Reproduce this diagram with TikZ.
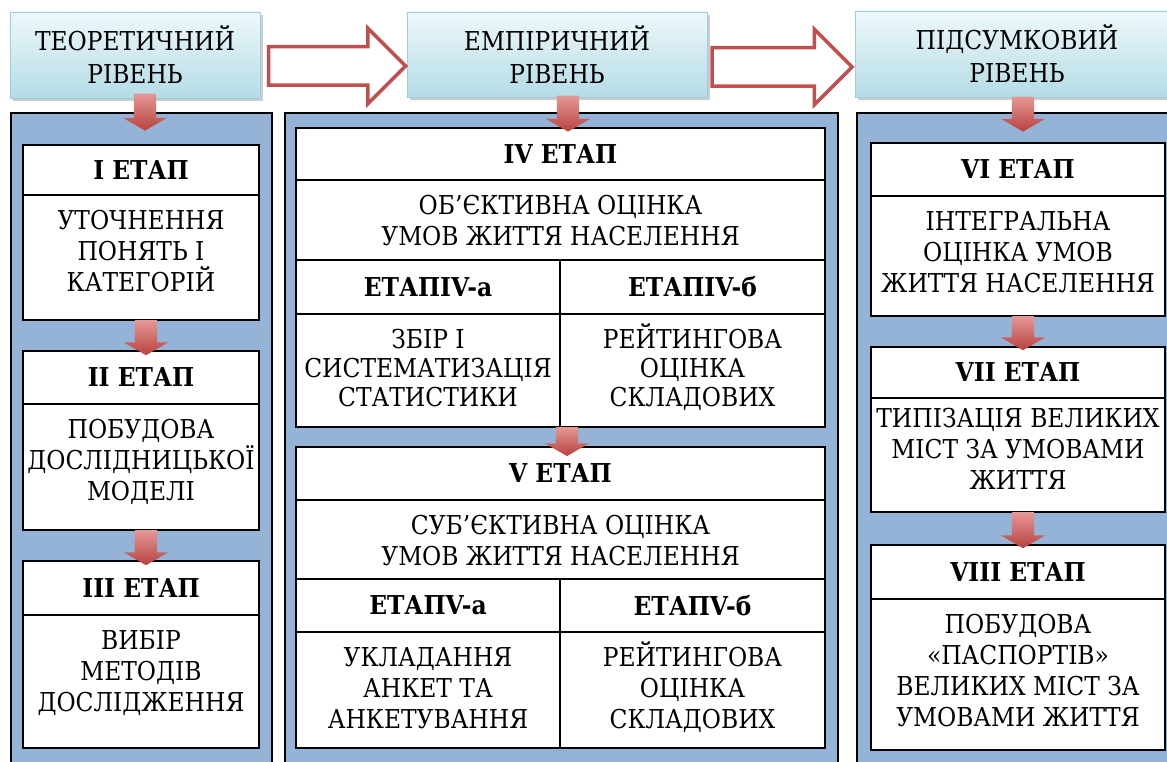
\documentclass[tikz,border=0pt]{standalone}
\usepackage{fontspec}
\setmainfont{DejaVu Serif Condensed}
\usepackage{tikz}
\usetikzlibrary{positioning,shapes.arrows,shadows,calc}
\usepackage{xcolor}
\definecolor{panelblue}{HTML}{95B3D7}
\definecolor{lvltop}{HTML}{EEF8FA}
\definecolor{lvlbot}{HTML}{B4DCE6}
\definecolor{lvlline}{HTML}{9CCFDD}
\definecolor{arrred}{HTML}{C0504D}
\definecolor{arrlight}{HTML}{E59895}
\definecolor{arrdark}{HTML}{B8423F}
\newcommand{\diagfont}{\fontsize{26}{31}\selectfont}

\begin{document}
\begin{tikzpicture}[x=1pt,y=-1pt,
    panel/.style={draw=black,line width=1.5pt,fill=panelblue,inner sep=0pt,outer sep=0pt},
    level/.style={draw=lvlline,line width=0.8pt,top color=lvltop,bottom color=lvlbot,align=center,inner sep=0pt,
        font=\fontsize{26}{33}\selectfont,drop shadow={shadow xshift=3pt,shadow yshift=-3pt,fill=black!40,opacity=.5}},
    stagetitle/.style={draw=black,line width=1.2pt,fill=white,font=\diagfont\bfseries,inner sep=0pt,outer sep=0pt},
    stagebody/.style={draw=black,line width=1.2pt,fill=white,font=\diagfont,align=center,inner sep=0pt,outer sep=0pt},
    bigarrow/.style={single arrow,draw=arrred,line width=3.5pt,fill=white,single arrow head extend=18.5pt,
        single arrow tip angle=90,inner sep=17.5pt},
    downarrow/.style={single arrow,shape border rotate=270,top color=arrlight,bottom color=arrdark,
        single arrow head extend=11pt,single arrow tip angle=120,inner sep=11pt,anchor=tail}]

    \useasboundingbox (0,0) rectangle (1167,762);
    \clip (0,0) rectangle (1167,762);

    % panels
    \node[panel,minimum width=261pt,minimum height=670pt] (p1) at (141.5,448) {};
    \node[panel,minimum width=553pt,minimum height=670pt] (p2) at (561.5,448) {};
    \node[panel,minimum width=333pt,minimum height=670pt] (p3) at (1023.5,448) {};

    % levels
    \node[level,minimum width=250pt,minimum height=86pt] (teor) at (135,55) {ТЕОРЕТИЧНИЙ\\РІВЕНЬ};
    \node[level,minimum width=300pt,minimum height=85pt] (emp) at (557,54.5) {ЕМПІРИЧНИЙ\\РІВЕНЬ};
    \node[level,minimum width=324pt,minimum height=86pt] (pids) at (1017,54) {ПІДСУМКОВИЙ\\РІВЕНЬ};

    \node[bigarrow,minimum height=137pt] (ar1) at (327.5,66) {};
    \node[bigarrow,minimum height=140pt] (ar2) at (772.5,67) {};

    % first column
    \node[stagetitle,minimum width=236pt,minimum height=50pt] (st1) at (141,170) {I ЕТАП};
    \node[stagebody,minimum width=236pt,text height=96pt,text depth=29pt,below=0pt of st1] (st1b) {УТОЧНЕННЯ\\ПОНЯТЬ І\\КАТЕГОРІЙ};
    \node[stagetitle,minimum width=236pt,minimum height=53pt] (st2) at (141,377.5) {II ЕТАП};
    \node[stagebody,minimum width=236pt,text height=96pt,text depth=30pt,below=0pt of st2] (st2b) {ПОБУДОВА\\ДОСЛІДНИЦЬКОЇ\\МОДЕЛІ};
    \node[stagetitle,minimum width=236pt,minimum height=54pt] (st3) at (141,588) {III ЕТАП};
    \node[stagebody,minimum width=236pt,text height=96pt,text depth=37pt,below=0pt of st3] (st3b) {ВИБІР\\МЕТОДІВ\\ДОСЛІДЖЕННЯ};

    % second column
    \node[stagetitle,minimum width=529pt,minimum height=52pt] (st4) at (560.5,154) {IV ЕТАП};
    \node[stagebody,minimum width=529pt,text height=65pt,text depth=15pt,below=0pt of st4] (st4b) {ОБ’ЄКТИВНА ОЦІНКА\\УМОВ ЖИТТЯ НАСЕЛЕННЯ};
    \node[stagetitle,minimum width=264pt,minimum height=54pt,below right=0pt of st4b.south west] (st4l) {ЕТАПIV-а};
    \node[stagetitle,minimum width=265pt,minimum height=54pt,below left=0pt of st4b.south east] (st4r) {ЕТАПIV-б};
    \node[stagebody,minimum width=264pt,text height=92pt,text depth=21pt,below=0pt of st4l,font=\fontsize{26}{29}\selectfont] (st4lb) {ЗБІР І\\СИСТЕМАТИЗАЦІЯ\\СТАТИСТИКИ};
    \node[stagebody,minimum width=265pt,text height=92pt,text depth=21pt,below=0pt of st4r,font=\fontsize{26}{29}\selectfont] (st4rb) {РЕЙТИНГОВА\\ОЦІНКА\\СКЛАДОВИХ};

    \node[stagetitle,minimum width=529pt,minimum height=53pt] (st5) at (560.5,473.5) {V ЕТАП};
    \node[stagebody,minimum width=529pt,text height=65pt,text depth=14pt,below=0pt of st5] (st5b) {СУБ’ЄКТИВНА ОЦІНКА\\УМОВ ЖИТТЯ НАСЕЛЕННЯ};
    \node[stagetitle,minimum width=264pt,minimum height=53pt,below right=0pt of st5b.south west] (st5l) {ЕТАПV-а};
    \node[stagetitle,minimum width=265pt,minimum height=53pt,below left=0pt of st5b.south east] (st5r) {ЕТАПV-б};
    \node[stagebody,minimum width=264pt,text height=96pt,text depth=20pt,below=0pt of st5l] (st5lb) {УКЛАДАННЯ\\АНКЕТ ТА\\АНКЕТУВАННЯ};
    \node[stagebody,minimum width=265pt,text height=96pt,text depth=20pt,below=0pt of st5r] (st5rb) {РЕЙТИНГОВА\\ОЦІНКА\\СКЛАДОВИХ};

    % third column
    \node[stagetitle,minimum width=294pt,minimum height=53pt] (st6) at (1018,169.5) {VI ЕТАП};
    \node[stagebody,minimum width=294pt,text height=96pt,text depth=24pt,below=0pt of st6] (st6b) {ІНТЕГРАЛЬНА\\ОЦІНКА УМОВ\\ЖИТТЯ НАСЕЛЕННЯ};
    \node[stagetitle,minimum width=294pt,minimum height=51pt] (st7) at (1018,372.5) {VII ЕТАП};
    \node[stagebody,minimum width=294pt,text height=91pt,text depth=23pt,below=0pt of st7] (st7b) {ТИПІЗАЦІЯ ВЕЛИКИХ\\МІСТ ЗА УМОВАМИ\\ЖИТТЯ};
    \node[stagetitle,minimum width=294pt,minimum height=54pt] (st8) at (1018,572) {VIII ЕТАП};
    \node[stagebody,minimum width=294pt,text height=127pt,text depth=24pt,below=0pt of st8] (st8b) {ПОБУДОВА\\«ПАСПОРТІВ»\\ВЕЛИКИХ МІСТ ЗА\\УМОВАМИ ЖИТТЯ};

    % small arrows
    \node[downarrow,minimum height=37pt] (d1) at ([xshift=10pt,yshift=5pt]teor.south) {};
    \node[downarrow,minimum height=35pt] (d2) at ([xshift=5pt]st1b.south) {};
    \node[downarrow,minimum height=35pt] (d3) at ([xshift=5pt]st2b.south) {};
    \node[downarrow,minimum height=36pt] (d4) at ([xshift=11pt,yshift=2pt]emp.south) {};
    \node[downarrow,minimum height=26pt] (d5) at ([xshift=7pt]st4lb.south east) {};
    \node[downarrow,minimum height=35pt] (d6) at ([xshift=6pt,yshift=1pt]pids.south) {};
    \node[downarrow,minimum height=34pt] (d7) at ([xshift=5pt]st6b.south) {};
    \node[downarrow,minimum height=36pt] (d8) at ([xshift=5pt]st7b.south) {};
\end{tikzpicture}
\end{document}
